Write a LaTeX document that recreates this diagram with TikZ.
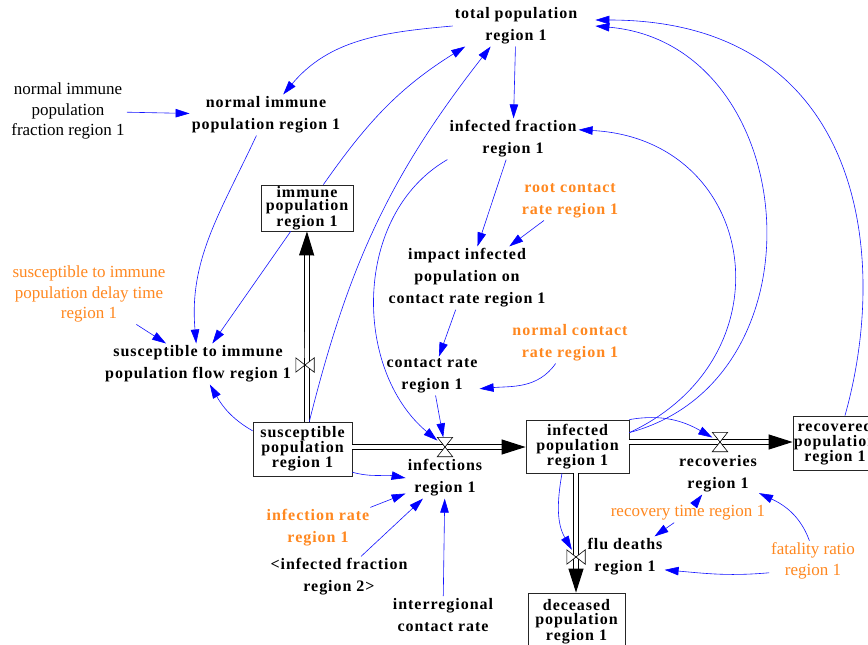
\documentclass[tikz,border=0pt]{standalone}
\usepackage{fontspec}
\setmainfont{Liberation Serif}
\newfontfamily\vfam[LetterSpace=6]{Liberation Serif}
\usetikzlibrary{arrows.meta}
\definecolor{vorange}{RGB}{255,136,32}
\definecolor{vblue}{RGB}{20,20,255}
\tikzset{
  lbl/.style={align=center, inner sep=2pt, font=\vfam\bfseries\fontsize{16}{22}\selectfont},
  lblr/.style={align=center, inner sep=2pt, font=\fontsize{17}{20.5}\selectfont},
  orng/.style={text=vorange},
  stock/.style={draw=black!85, line width=0.8pt, align=center, inner sep=0pt, font=\vfam\bfseries\fontsize{16}{15}\selectfont},
  link/.style={draw=vblue, line width=0.6pt, -{Triangle[length=14pt,width=8.5pt,color=blue]}},
  pipe/.style={draw=black, double=white, line width=0.8pt, double distance=3.6pt},
  pipehead/.style={draw=white, line width=1pt, -{Triangle[length=24pt,width=15pt,color=black]}},
  hvalve/.style={inner sep=0pt, minimum width=15pt, minimum height=19pt},
  vvalve/.style={inner sep=0pt, minimum width=18pt, minimum height=14pt},
  valveline/.style={draw=black, fill=white, line width=0.6pt}
}
\begin{document}
\begin{tikzpicture}[x=1pt,y=1pt]
\useasboundingbox (0,0) rectangle (868,-645);
\fill[white] (0,0) rectangle (868,-645);
\clip (0,0) rectangle (868,-645);

% auxiliaries
\node[lbl] (tot) at (516,-26) {total population\\region 1};
\node[lblr] (nipf) at (68,-111) {normal immune\\population\\fraction region 1};
\node[lbl] (nip) at (266,-115) {normal immune\\population region 1};
\node[lbl] (inff) at (513,-139) {infected fraction\\region 1};
\node[lbl,orng] (root) at (570,-201) {root contact\\rate region 1};
\node[lbl] (imp) at (467,-278) {impact infected\\population on\\contact rate region 1};
\node[lblr,orng] (del) at (89,-294) {susceptible to immune\\population delay time\\region 1};
\node[lbl] (stif) at (198,-364) {susceptible to immune\\population flow region 1};
\node[lbl] (cr) at (432,-376) {contact rate\\region 1};
\node[lbl,orng] (ncr) at (570,-343) {normal contact\\rate region 1};
\node[lbl] (ir) at (445,-478) {infections\\region 1};
\node[lbl] (rcv) at (718,-474) {recoveries\\region 1};
\node[lbl,orng] (irate) at (318,-528) {infection rate\\region 1};
\node[lbl] (ifr2) at (339,-577) {<infected fraction\\region 2>};
\node[lbl] (icr) at (443,-615) {interregional\\contact rate};
\node[lblr,orng] (rt) at (688,-513) {recovery time region 1};
\node[lbl] (fd) at (625,-557) {flu deaths\\region 1};
\node[lblr,orng] (fr) at (813,-561) {fatality ratio\\region 1};

% stocks
\node[stock, minimum width=99pt, minimum height=54pt] (sus) at (302.5,-449) {susceptible\\population\\region 1};
\node[stock, minimum width=92pt, minimum height=46pt, font=\vfam\bfseries\fontsize{16}{13}\selectfont] (imm) at (307,-208) {immune\\population\\region 1};
\node[stock, minimum width=103pt, minimum height=53pt] (inf) at (577.5,-446.5) {infected\\population\\region 1};
\node[stock, minimum width=84pt, minimum height=54pt, font=\vfam\bfseries\fontsize{16}{14.5}\selectfont] (rec) at (835,-443) {recovered\\population\\region 1};
\node[stock, minimum width=97pt, minimum height=57pt, font=\vfam\bfseries\fontsize{16}{14.5}\selectfont] (dec) at (576.5,-621.5) {deceased\\population\\region 1};

% valves (placeholders)
\node[hvalve] (vinf) at (445,-447) {};
\node[hvalve] (vrec) at (720,-442) {};
\node[vvalve] (vimm) at (305,-365) {};
\node[vvalve] (vfd) at (576,-557) {};

% pipes
\draw[pipe, shorten >=20pt] (imm.south |- sus.north) -- (imm.south);
\draw[pipehead] (vimm) -- (imm.south);
\draw[pipe, shorten >=20pt] (sus.east |- vinf) -- (inf.west |- vinf);
\draw[pipehead] (vinf) -- (inf.west |- vinf);
\draw[pipe, shorten >=20pt] (inf.east |- vrec) -- (rec.west |- vrec);
\draw[pipehead] (vrec) -- (rec.west |- vrec);
\draw[pipe, shorten >=20pt] (vfd |- inf.south) -- (vfd |- dec.north);
\draw[pipehead] (vfd) -- (vfd |- dec.north);

% valve shapes
\foreach \v in {vinf,vrec}{
  \draw[valveline] (\v.north west) -- (\v.north east) -- (\v.south west) -- (\v.south east) -- cycle;}
\foreach \v in {vimm,vfd}{
  \draw[valveline] (\v.north west) -- (\v.south west) -- (\v.north east) -- (\v.south east) -- cycle;}

% links
\draw[link] (tot.west) to[out=185,in=50] (nip);
\draw[link] (nipf) -- (nip);
\draw[link] (nip) to[out=245,in=95] (stif);
\draw[link] (imm) to[out=55,in=212] (tot.202);
\draw[link] (sus) to[out=76,in=232] (tot.219);
\draw[link] (inff.south west) to[out=210,in=140] (vinf);
\draw[link] (inff) -- (imp);
\draw[link] (root) -- (imp);
\draw[link] (imp) -- (cr);
\draw[link] (ncr) to[out=235,in=5] (cr.-15);
\draw[link] (cr) -- (vinf);
\draw[link] (del) -- (stif);
\draw[link] (imm) -- (stif);
\draw[link] (sus.160) to[out=150,in=-60] (stif);
\draw[link] (tot) -- (inff);
\draw[link] (inf.15) to[out=15,in=-5,looseness=1.3] ([xshift=16pt]tot.east);
\draw[link] (inf.15) to[out=25,in=-3,looseness=1.5] (inff.8);
\draw[link] (rec.70) .. controls +(47,167) and +(263,0) .. ([xshift=16pt,yshift=6pt]tot.east);
\draw[link] (inf.north east) to[out=10,in=150] (vrec);
\draw[link] (sus.-25) to[out=-15,in=170] (ir.west);
\draw[link] (irate) -- (ir);
\draw[link] (ifr2) -- (ir);
\draw[link] (icr) -- (ir);
\draw[link] (inf.-120) to[out=260,in=120] (vfd);
\draw[link] (rt) -- (rcv);
\draw[link] (rt) -- (fd);
\draw[link] (fr.100) to[out=110,in=-25] (rcv);
\draw[link] (fr.195) to[out=185,in=-5] (fd.-18);
\end{tikzpicture}
\end{document}
